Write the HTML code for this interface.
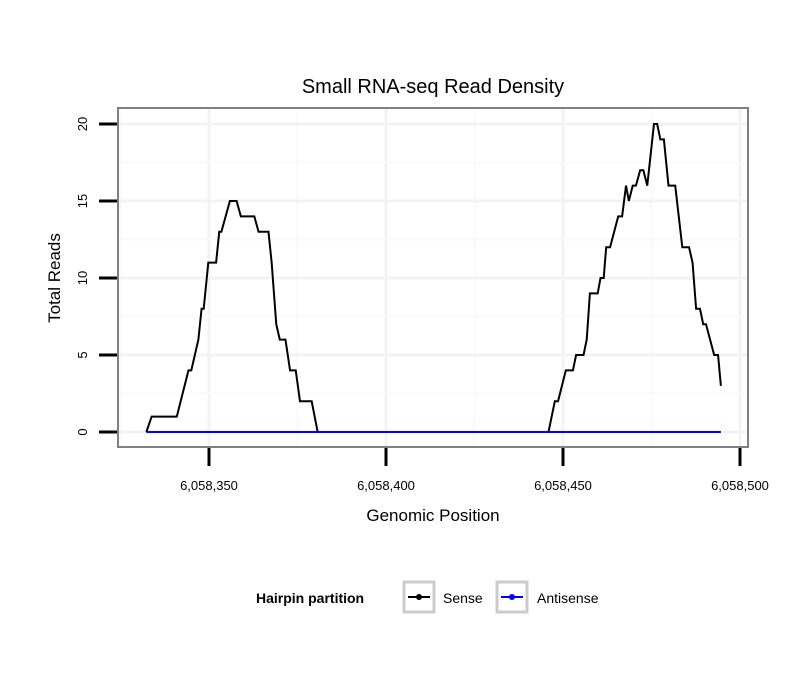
<!DOCTYPE html>
<html><head><meta charset="utf-8"><style>
body{margin:0;background:#fff;font-family:"Liberation Sans",sans-serif}
svg text{font-family:"Liberation Sans",sans-serif}
</style></head><body>
<svg width="810" height="690">
<g id="grid"></g>
<rect x="118" y="108" width="630" height="339" fill="none" stroke="#808080" stroke-width="2"/>
<g id="series"></g>
<g id="axes"></g>
<text x="433" y="93" font-size="20" text-anchor="middle">Small RNA-seq Read Density</text>
<text x="433" y="521" font-size="17" text-anchor="middle">Genomic Position</text>
<text transform="translate(60,278) rotate(-90)" font-size="17" text-anchor="middle">Total Reads</text>
<g>
<text x="256" y="603" font-size="14" font-weight="bold">Hairpin partition</text>
<g>
<rect x="404" y="582" width="30" height="30" fill="#fff" stroke="#ccc" stroke-width="3"/>
<line x1="408" y1="597" x2="430" y2="597" stroke="#000" stroke-width="2"/>
<circle cx="419" cy="597" r="3" fill="#000"/>
<text x="443" y="603" font-size="14">Sense</text></g>
<g>
<rect x="497" y="582" width="30" height="30" fill="#fff" stroke="#ccc" stroke-width="3"/>
<line x1="501" y1="597" x2="523" y2="597" stroke="#0000ff" stroke-width="2"/>
<circle cx="512" cy="597" r="3" fill="#0000ff"/>
<text x="537" y="603" font-size="14">Antisense</text></g>
</g>
</svg>
<script>
const sensePos=[332.3,333.8,340.9,344.2,345,347,347.9,348.5,349.8,352,352.9,353.5,355.9,357.8,359,362.8,364,366.8,367.7,369,370,371.6,372.9,374.5,375.7,379,380.7,445.9,447.7,448.6,450.8,452.8,453.7,455.8,456.7,457.6,459.8,460.6,461.5,462.2,463.3,465.6,466.7,467.8,468.6,469.7,470.6,471.8,472.7,473.8,475.7,476.6,477.5,478.5,479.8,481.7,483.7,485.6,486.6,487.6,488.7,489.6,490.4,492.7,493.8,494.6];
const senseVal=[0,1,1,4,4,6,8,8,11,11,13,13,15,15,14,14,13,13,11,7,6,6,4,4,2,2,0,0,2,2,4,4,5,5,6,9,9,10,10,12,12,14,14,16,15,16,16,17,17,16,20,20,19,19,16,16,12,12,11,8,8,7,7,5,5,3];
const antiPos=[332.3,494.6];
const antiVal=[0,0];
const xTicks=[6058350,6058400,6058450,6058500];
const xTickLabels=["6,058,350","6,058,400","6,058,450","6,058,500"];
const yTicks=[0,5,10,15,20];
const base=6058000;
const X=v=>209+(v-350)*3.54;      // relative positions
const XA=v=>X(v-base);
const Y=v=>432-v*15.4;
const ns="http://www.w3.org/2000/svg";
function mk(t,a,p){const e=document.createElementNS(ns,t);for(const k in a)e.setAttribute(k,a[k]);p.appendChild(e);return e;}
const grid=document.getElementById('grid'),axes=document.getElementById('axes'),series=document.getElementById('series');
mk('rect',{x:118,y:108,width:630,height:339,fill:'#fff'},grid);
for(let v=6058325;v<=6058500;v+=25){const x=XA(v);if(x>118&&x<748){const g=mk('line',{x1:x,y1:108,x2:x,y2:447,stroke:v%50?'#fafafa':'#f3f3f3','stroke-width':v%50?2:3},grid);

}}
for(let v=0;v<=22.5;v+=2.5){const y=Y(v);if(y>108&&y<447){const g=mk('line',{x1:118,y1:y,x2:748,y2:y,stroke:v%5?'#fafafa':'#f3f3f3','stroke-width':v%5?2:3},grid);

}}
xTicks.forEach((v,i)=>{const x=XA(v);
const t=mk('line',{x1:x,y1:448,x2:x,y2:466,stroke:'#000','stroke-width':3},axes);


const l=mk('text',{x:x,y:490,'font-size':13,'text-anchor':'middle'},axes);l.textContent=xTickLabels[i];

});
yTicks.forEach(v=>{const y=Y(v);
const t=mk('line',{x1:99,y1:y,x2:117,y2:y,stroke:'#000','stroke-width':3},axes);


const l=mk('text',{transform:`translate(87,${y}) rotate(-90)`,'font-size':13,'text-anchor':'middle'},axes);l.textContent=v;

});
const s=mk('polyline',{points:sensePos.map((p,i)=>X(p)+','+Y(senseVal[i])).join(' '),fill:'none',stroke:'#000','stroke-width':2},series);


const a=mk('polyline',{points:antiPos.map((p,i)=>X(p)+','+Y(antiVal[i])).join(' '),fill:'none',stroke:'#0000ff','stroke-width':2},series);


</script>
</body></html>
